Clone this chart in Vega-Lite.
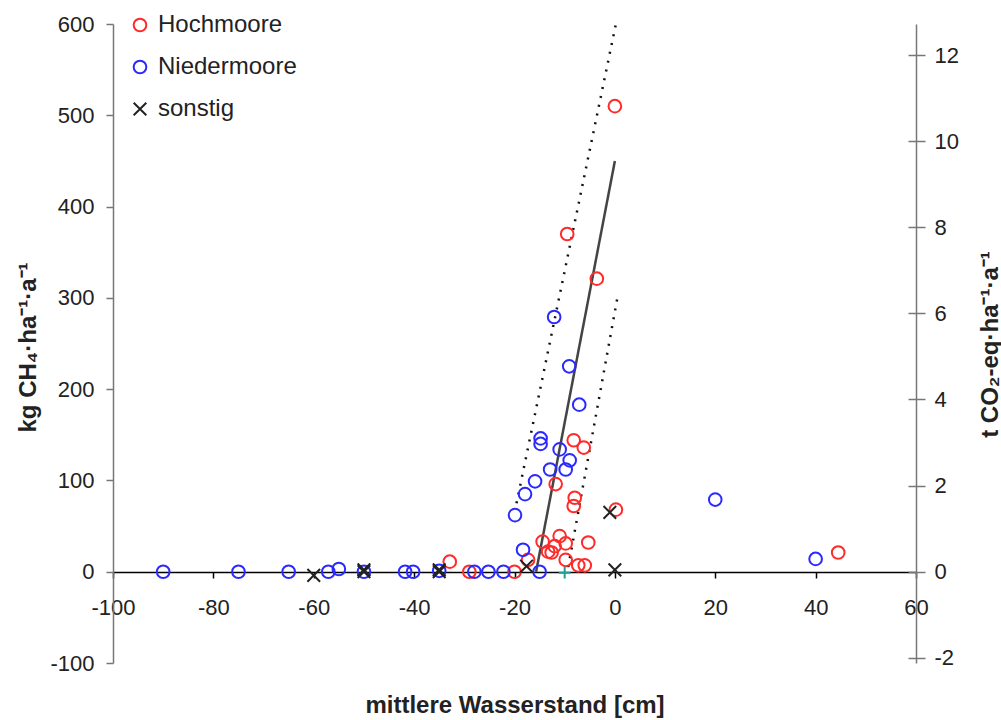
{
  "$schema": "https://vega.github.io/schema/vega-lite/v6.json",
  "width": 803,
  "height": 639,
  "autosize": "none",
  "padding": {"left": 113, "top": 24, "right": 85, "bottom": 57},
  "background": "white",
  "config": {
    "view": {"stroke": null},
    "font": "Liberation Sans",
    "axis": {"grid": false, "labelFont": "Liberation Sans", "titleFont": "Liberation Sans", "labelFlush": false, "labelOverlap": false}
  },
  "datasets": {
    "punkte": [
      {"gruppe": "Hochmoore", "wasserstand": 0, "ch4": 510},
      {"gruppe": "Hochmoore", "wasserstand": -9.5, "ch4": 370},
      {"gruppe": "Hochmoore", "wasserstand": -3.6, "ch4": 321},
      {"gruppe": "Hochmoore", "wasserstand": -8.2, "ch4": 144},
      {"gruppe": "Hochmoore", "wasserstand": -6.2, "ch4": 136},
      {"gruppe": "Hochmoore", "wasserstand": -11.8, "ch4": 96},
      {"gruppe": "Hochmoore", "wasserstand": -8, "ch4": 81},
      {"gruppe": "Hochmoore", "wasserstand": -8.2, "ch4": 72},
      {"gruppe": "Hochmoore", "wasserstand": 0.2, "ch4": 68},
      {"gruppe": "Hochmoore", "wasserstand": -14.4, "ch4": 33},
      {"gruppe": "Hochmoore", "wasserstand": -11, "ch4": 39},
      {"gruppe": "Hochmoore", "wasserstand": -5.3, "ch4": 32},
      {"gruppe": "Hochmoore", "wasserstand": -9.8, "ch4": 31},
      {"gruppe": "Hochmoore", "wasserstand": -12, "ch4": 28},
      {"gruppe": "Hochmoore", "wasserstand": -13.3, "ch4": 22},
      {"gruppe": "Hochmoore", "wasserstand": -12.6, "ch4": 21},
      {"gruppe": "Hochmoore", "wasserstand": -9.8, "ch4": 13},
      {"gruppe": "Hochmoore", "wasserstand": -17.3, "ch4": 13},
      {"gruppe": "Hochmoore", "wasserstand": -7.3, "ch4": 7},
      {"gruppe": "Hochmoore", "wasserstand": -6, "ch4": 7},
      {"gruppe": "Hochmoore", "wasserstand": -20, "ch4": 0},
      {"gruppe": "Hochmoore", "wasserstand": -32.9, "ch4": 11},
      {"gruppe": "Hochmoore", "wasserstand": -29, "ch4": 0},
      {"gruppe": "Hochmoore", "wasserstand": 44.5, "ch4": 21},
      {"gruppe": "Niedermoore", "wasserstand": -12.1, "ch4": 279},
      {"gruppe": "Niedermoore", "wasserstand": -9.1, "ch4": 225},
      {"gruppe": "Niedermoore", "wasserstand": -7.1, "ch4": 183},
      {"gruppe": "Niedermoore", "wasserstand": -14.8, "ch4": 146},
      {"gruppe": "Niedermoore", "wasserstand": -14.8, "ch4": 140},
      {"gruppe": "Niedermoore", "wasserstand": -11, "ch4": 134},
      {"gruppe": "Niedermoore", "wasserstand": -9, "ch4": 122},
      {"gruppe": "Niedermoore", "wasserstand": -9.8, "ch4": 112},
      {"gruppe": "Niedermoore", "wasserstand": -12.9, "ch4": 112},
      {"gruppe": "Niedermoore", "wasserstand": -15.9, "ch4": 99},
      {"gruppe": "Niedermoore", "wasserstand": -17.9, "ch4": 85},
      {"gruppe": "Niedermoore", "wasserstand": -19.9, "ch4": 62},
      {"gruppe": "Niedermoore", "wasserstand": -18.3, "ch4": 24},
      {"gruppe": "Niedermoore", "wasserstand": -15, "ch4": 0},
      {"gruppe": "Niedermoore", "wasserstand": -22.2, "ch4": 0},
      {"gruppe": "Niedermoore", "wasserstand": -25.2, "ch4": 0},
      {"gruppe": "Niedermoore", "wasserstand": -28, "ch4": 0},
      {"gruppe": "Niedermoore", "wasserstand": -35, "ch4": 1},
      {"gruppe": "Niedermoore", "wasserstand": -40.2, "ch4": 0},
      {"gruppe": "Niedermoore", "wasserstand": -41.8, "ch4": 0},
      {"gruppe": "Niedermoore", "wasserstand": -50, "ch4": 0},
      {"gruppe": "Niedermoore", "wasserstand": -55, "ch4": 3},
      {"gruppe": "Niedermoore", "wasserstand": -57.1, "ch4": 0},
      {"gruppe": "Niedermoore", "wasserstand": -65, "ch4": 0},
      {"gruppe": "Niedermoore", "wasserstand": -75, "ch4": 0},
      {"gruppe": "Niedermoore", "wasserstand": -90, "ch4": 0},
      {"gruppe": "Niedermoore", "wasserstand": 20, "ch4": 79},
      {"gruppe": "Niedermoore", "wasserstand": 40, "ch4": 14},
      {"gruppe": "sonstig", "wasserstand": -60, "ch4": -4},
      {"gruppe": "sonstig", "wasserstand": -50, "ch4": 0},
      {"gruppe": "sonstig", "wasserstand": -50, "ch4": 2},
      {"gruppe": "sonstig", "wasserstand": -35, "ch4": 0},
      {"gruppe": "sonstig", "wasserstand": -35, "ch4": 2},
      {"gruppe": "sonstig", "wasserstand": -17.6, "ch4": 6},
      {"gruppe": "sonstig", "wasserstand": -1, "ch4": 65},
      {"gruppe": "sonstig", "wasserstand": 0, "ch4": 2}
    ],
    "sonder": [
      {"gruppe": "unbekannt", "wasserstand": -10, "ch4": -1}
    ],
    "regression": [
      {"wasserstand": -15.7, "ch4": 0},
      {"wasserstand": 0, "ch4": 450}
    ],
    "konfidenz": [
      {"grenze": "oben", "wasserstand": -19.6, "ch4": 75},
      {"grenze": "oben", "wasserstand": 0.2, "ch4": 600},
      {"grenze": "unten", "wasserstand": -9.3, "ch4": 5},
      {"grenze": "unten", "wasserstand": 0.5, "ch4": 300}
    ],
    "co2achse": [
      {"t_co2": -2},
      {"t_co2": 12}
    ]
  },
  "layer": [
    {
      "layer": [
        {
          "data": {"name": "konfidenz"},
          "mark": {"type": "line", "color": "#111111", "strokeWidth": 2.5, "strokeDash": [2, 7]},
          "encoding": {
            "x": {"field": "wasserstand", "type": "quantitative"},
            "y": {"field": "ch4", "type": "quantitative"},
            "detail": {"field": "grenze"}
          }
        },
        {
          "data": {"name": "regression"},
          "mark": {"type": "line", "color": "#444444", "strokeWidth": 2.5},
          "encoding": {
            "x": {"field": "wasserstand", "type": "quantitative"},
            "y": {"field": "ch4", "type": "quantitative"}
          }
        },
        {
          "data": {"name": "punkte"},
          "mark": {"type": "point", "filled": false, "strokeWidth": 2, "size": 160, "opacity": 1},
          "encoding": {
            "x": {
              "field": "wasserstand", "type": "quantitative",
              "scale": {"domain": [-100, 60], "nice": false, "zero": false},
              "axis": {
                "orient": "bottom", "offset": -91,
                "values": [-100, -80, -60, -40, -20, 0, 20, 40, 60],
                "labelExpr": "replace(datum.label, '−', '-')",
                "domainColor": "#000000", "domainWidth": 1.5,
                "tickColor": "#000000", "tickWidth": 1.5, "tickSize": 6,
                "labelFontSize": 22, "labelPadding": 19, "labelColor": "#222222",
                "title": "mittlere Wasserstand [cm]",
                "titleFontSize": 24, "titleFontWeight": "bold", "titleColor": "#222222",
                "titleY": 133, "titleBaseline": "middle"
              }
            },
            "y": {
              "field": "ch4", "type": "quantitative",
              "scale": {"domain": [-100, 600], "nice": false, "zero": false},
              "axis": {
                "orient": "left",
                "values": [-100, 0, 100, 200, 300, 400, 500, 600],
                "labelExpr": "replace(datum.label, '−', '-')",
                "domainColor": "#777777", "domainWidth": 1.5,
                "tickColor": "#777777", "tickWidth": 1.5, "tickSize": 7,
                "labelFontSize": 22, "labelPadding": 12, "labelColor": "#222222",
                "title": "kg CH₄·ha⁻¹·a⁻¹",
                "titleFontSize": 24, "titleFontWeight": "bold", "titleColor": "#222222",
                "titleAngle": 270, "titleX": -85, "titleY": 323,
                "titleAlign": "center", "titleBaseline": "middle"
              }
            },
            "color": {
              "field": "gruppe", "type": "nominal",
              "scale": {"domain": ["Hochmoore", "Niedermoore", "sonstig"], "range": ["#ff2a2a", "#2a2aff", "#222222"]},
              "legend": {
                "title": null, "orient": "none", "legendX": 15, "legendY": -11,
                "labelFontSize": 24, "labelColor": "#222222", "labelOffset": 6,
                "symbolStrokeWidth": 2, "symbolSize": 160, "rowPadding": 18, "padding": 0, "symbolOpacity": 1
              }
            },
            "shape": {
              "field": "gruppe", "type": "nominal",
              "scale": {"domain": ["Hochmoore", "Niedermoore", "sonstig"], "range": ["circle", "circle", "M-1,-1L1,1M-1,1L1,-1"]},
              "legend": {
                "title": null, "orient": "none", "legendX": 15, "legendY": -11,
                "labelFontSize": 24, "labelColor": "#222222", "labelOffset": 6,
                "symbolStrokeWidth": 2, "symbolSize": 160, "rowPadding": 18, "padding": 0, "symbolOpacity": 1
              }
            }
          }
        },
        {
          "data": {"name": "sonder"},
          "mark": {"type": "point", "filled": false, "strokeWidth": 2, "size": 140, "opacity": 1, "shape": "M-1,0L1,0M0,-1L0,1", "color": "#1f9e96"},
          "encoding": {
            "x": {"field": "wasserstand", "type": "quantitative"},
            "y": {"field": "ch4", "type": "quantitative"}
          }
        }
      ]
    },
    {
      "data": {"name": "co2achse"},
      "mark": {"type": "point", "opacity": 0},
      "encoding": {
        "y": {
          "field": "t_co2", "type": "quantitative",
          "scale": {"domain": [-2.12, 12.72], "nice": false, "zero": false},
          "axis": {
            "orient": "right",
            "values": [-2, 0, 2, 4, 6, 8, 10, 12],
            "labelExpr": "replace(datum.label, '−', '-')",
            "domainColor": "#777777", "domainWidth": 1.5,
            "tickColor": "#777777", "tickWidth": 1.5, "tickSize": 9,
            "labelFontSize": 22, "labelPadding": 9, "labelColor": "#222222",
            "title": "t CO₂-eq·ha⁻¹·a⁻¹",
            "titleFontSize": 24, "titleFontWeight": "bold", "titleColor": "#222222",
            "titleAngle": 270, "titleX": 74, "titleY": 320,
            "titleAlign": "center", "titleBaseline": "middle"
          }
        }
      }
    },
    {
      "data": {"name": "co2achse"},
      "mark": {"type": "point", "opacity": 0},
      "encoding": {
        "y": {
          "field": "t_co2", "type": "quantitative",
          "scale": {"domain": [-2.12, 12.72], "nice": false, "zero": false},
          "axis": {
            "orient": "right",
            "values": [-2, 0, 2, 4, 6, 8, 10, 12],
            "domain": false, "labels": false, "title": null,
            "tickColor": "#777777", "tickWidth": 1.5, "tickSize": -8
          }
        }
      }
    }
  ],
  "resolve": {"scale": {"y": "independent"}}
}
